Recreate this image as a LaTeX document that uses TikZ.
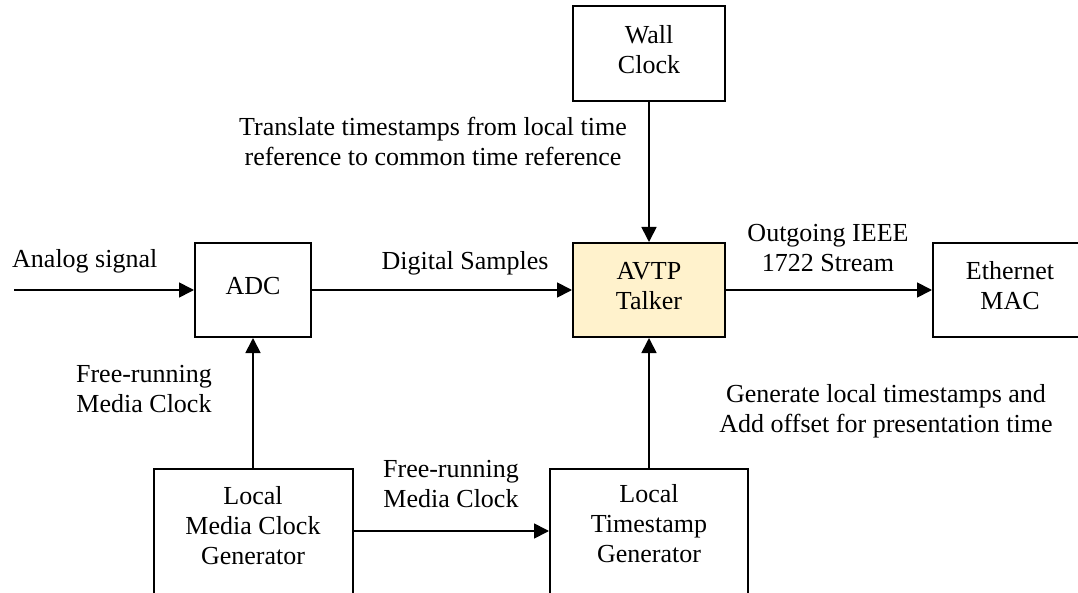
\documentclass[tikz,border=0pt]{standalone}
\usepackage{fontspec}
\setmainfont{Liberation Serif}
\usetikzlibrary{arrows.meta}
\definecolor{talkerfill}{RGB}{255,242,204}
% invisible depth that lifts box captions slightly above the centre
\newcommand{\lowstrut}{\rule[-9pt]{0pt}{9pt}}
\begin{document}
\begin{tikzpicture}[x=1pt,y=-1pt,
  every node/.style={font=\fontsize{26}{30}\selectfont},
  block/.style={draw, line width=2pt, align=center, inner sep=0pt},
  txt/.style={align=center, inner sep=0pt},
  arr/.style={line width=1.7pt, -{Triangle[length=15pt,width=15pt]}}]
\useasboundingbox (0,0) rectangle (1078,593);
\clip (0,0) rectangle (1078,593);

% blocks
\node[block, minimum width=152pt, minimum height=95pt] (wall) at (649,53.5) {Wall\\Clock\lowstrut};
\node[block, fill=talkerfill, minimum width=152pt, minimum height=94pt] (avtp) at (649,290) {AVTP\\Talker\lowstrut};
\node[block, minimum width=116pt, minimum height=94pt] (adc) at (253,290) {ADC\lowstrut};
\node[block, minimum width=154pt, minimum height=94pt] (eth) at (1010,290) {Ethernet\\MAC\lowstrut};
\node[block, minimum width=199pt, minimum height=160pt, anchor=north] (lmcg) at (253,468) {};
\node[block, minimum width=198pt, minimum height=160pt, anchor=north] (ltg) at (649,468) {};
\node[txt] (lmcgtext) at (253,526) {Local\\Media Clock\\Generator};
\node[txt] (ltgtext) at (649,524) {Local\\Timestamp\\Generator};

% labels
\node[txt, anchor=base west] (analog) at (12,268) {Analog signal};
\node[txt, anchor=base] (digital) at (465,270) {Digital Samples};
\node[txt] (outgoing) at (828,248.4) {Outgoing IEEE\\1722 Stream};
\node[txt] (translate) at (433,141) {Translate timestamps from local time\\reference to common time reference};
\node[txt] (freeA) at (144,389) {Free-running\\Media Clock};
\node[txt] (freeB) at (451,484) {Free-running\\Media Clock};
\node[txt] (generate) at (886,411) {Generate local timestamps and\\Add offset for presentation time};

% connectors
\coordinate (src) at (14,291);
\coordinate (clk) at (0,531);
\draw[arr] (src |- adc.west) -- (adc.west);
\draw[arr] (wall) -- (avtp);
\draw[arr] (ltg) -- (avtp);
\draw[arr] (lmcg) -- (adc);
\draw[arr] (adc) -- (avtp);
\draw[arr] (avtp) -- (eth);
\draw[arr] (lmcg.east |- clk) -- (ltg.west |- clk);
\end{tikzpicture}
\end{document}
